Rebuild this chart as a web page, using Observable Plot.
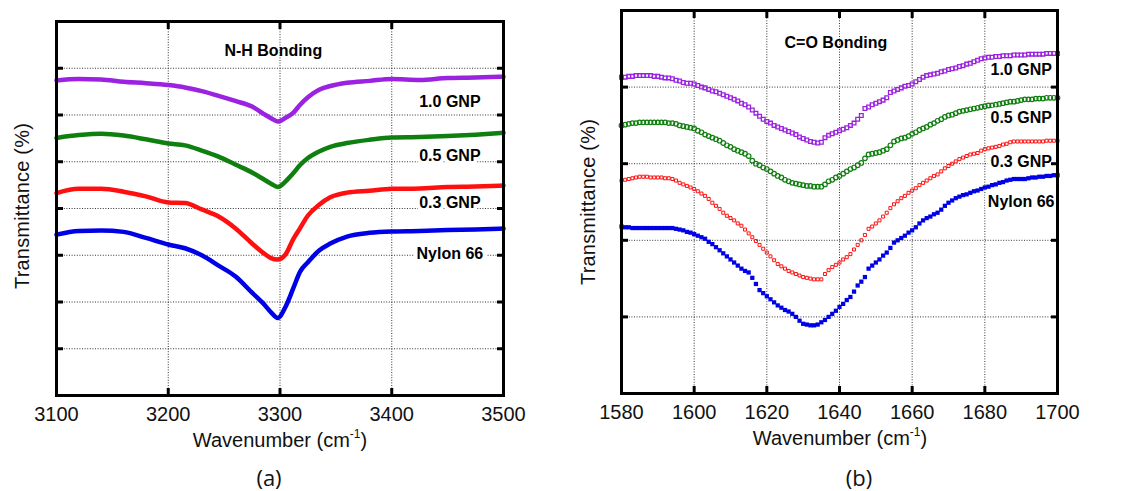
<!DOCTYPE html>
<html><head><meta charset="utf-8">
<script src="https://cdn.jsdelivr.net/npm/d3@7"></script>
<script src="https://cdn.jsdelivr.net/npm/@observablehq/plot@0.6"></script>
<style>
body{margin:0;background:#fff;}
#fig{position:relative;width:1123px;height:491px;overflow:hidden;font-family:"Liberation Sans",Arial,sans-serif;background:#fff;}
.panel{position:absolute;top:0;}
.xt{position:absolute;font-size:20px;line-height:1;transform:translate(-50%,-50%);white-space:nowrap;color:#111;}
.xt sup{font-size:12px;vertical-align:0;position:relative;top:-9px;}
.yt{position:absolute;font-size:20px;line-height:1;white-space:nowrap;transform:translate(-50%,-50%) rotate(-90deg);color:#111;letter-spacing:0.2px;}
.cap{position:absolute;font-family:"Open Sans",sans-serif;font-size:22px;line-height:1;transform:translate(-50%,-50%);color:#111;}
</style></head>
<body>
<div id="fig">
  <div class="panel" id="pa" style="left:0;"></div>
  <div class="panel" id="pb" style="left:560px;"></div>
  <div class="yt" style="left:22px;top:206px;">Transmittance (%)</div>
  <div class="yt" style="left:588px;top:202px;">Transmittance (%)</div>
  <div class="xt" style="left:280px;top:440px;">Wavenumber (cm<sup>-1</sup>)</div>
  <div class="xt" style="left:840px;top:438px;">Wavenumber (cm<sup>-1</sup>)</div>
  <div class="cap" style="left:269px;top:477px;">(a)</div>
  <div class="cap" style="left:859px;top:477px;">(b)</div>
</div>
<script>
// ---------- data ----------
const seriesNames = ["1.0 GNP", "0.5 GNP", "0.3 GNP", "Nylon 66"];
const seriesColors = ["#9b22e0", "#0f7f0f", "#ff1010", "#0000e6"];

// (a) N-H bonding
const wnA = [3100,3120,3140,3160,3180,3200,3215,3230,3245,3260,3275,3285,3292,3298,3305,3312,3318,3325,3335,3345,3360,3380,3400,3425,3450,3475,3500];
const gnp10A = [6.74,6.77,6.76,6.71,6.68,6.64,6.59,6.51,6.41,6.30,6.18,6.03,5.93,5.86,5.94,6.05,6.22,6.38,6.54,6.62,6.69,6.73,6.77,6.75,6.79,6.80,6.82];
const gnp05A = [5.51,5.57,5.60,5.56,5.48,5.39,5.35,5.24,5.11,4.94,4.77,4.63,4.53,4.46,4.58,4.76,4.93,5.08,5.22,5.32,5.40,5.47,5.52,5.53,5.55,5.58,5.62];
const gnp03A = [4.33,4.42,4.42,4.36,4.26,4.13,4.12,3.98,3.83,3.58,3.25,3.05,2.94,2.91,3.02,3.35,3.58,3.85,4.08,4.24,4.34,4.38,4.42,4.43,4.46,4.47,4.49];
const nylonA = [3.44,3.52,3.53,3.50,3.37,3.23,3.15,3.00,2.78,2.55,2.20,1.97,1.78,1.66,1.90,2.30,2.65,2.85,3.10,3.25,3.40,3.48,3.51,3.52,3.54,3.55,3.57];
const xTicksA = [3100, 3200, 3300, 3400, 3500];
const yTicksA = [1, 2, 3, 4, 5, 6, 7];
const labelYA = [6.28, 5.12, 4.11, 3.03];
const labelXA = 3452;
const titleA = "N-H Bonding";

// (b) C=O bonding, one point per cm-1 from 1580 to 1700
const wnStartB = 1580;
const gnp10B = [4.13,4.13,4.14,4.14,4.15,4.15,4.15,4.15,4.15,4.14,4.14,4.13,4.12,4.12,4.11,4.09,4.08,4.06,4.05,4.05,
4.04,4.02,4.00,3.99,3.97,3.95,3.94,3.92,3.90,3.88,3.86,3.84,3.82,3.79,3.77,3.74,3.70,3.66,3.62,3.58,
3.55,3.53,3.50,3.48,3.46,3.44,3.42,3.40,3.38,3.35,3.33,3.31,3.29,3.28,3.27,3.28,3.34,3.37,3.39,3.41,
3.43,3.45,3.47,3.50,3.53,3.58,3.63,3.72,3.74,3.77,3.79,3.81,3.83,3.86,3.93,3.95,3.97,3.99,4.01,4.02,
4.04,4.07,4.10,4.13,4.15,4.16,4.17,4.18,4.20,4.21,4.23,4.24,4.25,4.27,4.28,4.30,4.31,4.33,4.35,4.37,
4.38,4.39,4.39,4.40,4.40,4.41,4.41,4.41,4.42,4.42,4.42,4.42,4.43,4.43,4.43,4.43,4.43,4.44,4.44,4.44,4.44];
const gnp05B = [3.50,3.51,3.52,3.53,3.53,3.54,3.54,3.54,3.54,3.54,3.54,3.54,3.54,3.53,3.53,3.52,3.50,3.49,3.48,3.47,
3.46,3.43,3.41,3.38,3.36,3.34,3.32,3.30,3.27,3.24,3.22,3.19,3.17,3.15,3.13,3.10,3.04,3.00,2.98,2.95,
2.93,2.90,2.87,2.84,2.82,2.79,2.77,2.75,2.74,2.73,2.72,2.71,2.71,2.70,2.70,2.70,2.73,2.77,2.79,2.82,
2.84,2.87,2.90,2.93,2.95,2.98,3.01,3.07,3.12,3.13,3.14,3.15,3.17,3.19,3.24,3.29,3.31,3.33,3.34,3.36,
3.39,3.41,3.44,3.46,3.48,3.51,3.53,3.56,3.58,3.61,3.63,3.64,3.66,3.68,3.69,3.70,3.71,3.72,3.73,3.74,
3.75,3.76,3.76,3.77,3.78,3.79,3.80,3.81,3.81,3.82,3.83,3.84,3.84,3.84,3.85,3.85,3.85,3.86,3.86,3.86,3.86];
const gnp03B = [2.78,2.79,2.80,2.81,2.82,2.83,2.83,2.83,2.82,2.82,2.82,2.82,2.81,2.81,2.80,2.78,2.75,2.73,2.71,2.69,
2.67,2.64,2.61,2.58,2.54,2.49,2.45,2.41,2.36,2.32,2.29,2.26,2.22,2.19,2.14,2.09,2.04,1.99,1.94,1.89,
1.84,1.79,1.74,1.69,1.66,1.63,1.60,1.58,1.56,1.54,1.52,1.51,1.50,1.49,1.49,1.49,1.56,1.61,1.65,1.68,
1.71,1.75,1.78,1.82,1.88,1.94,2.00,2.07,2.15,2.18,2.22,2.26,2.31,2.36,2.42,2.47,2.51,2.55,2.58,2.62,
2.65,2.68,2.72,2.75,2.78,2.81,2.84,2.86,2.90,2.94,2.97,3.00,3.03,3.06,3.08,3.10,3.12,3.13,3.14,3.17,
3.19,3.20,3.21,3.22,3.23,3.25,3.26,3.28,3.29,3.29,3.29,3.29,3.29,3.29,3.29,3.29,3.29,3.30,3.30,3.30,3.30];
const nylonB = [2.18,2.17,2.17,2.16,2.16,2.16,2.16,2.16,2.16,2.16,2.16,2.16,2.16,2.16,2.16,2.15,2.14,2.13,2.11,2.10,
2.08,2.06,2.04,2.02,1.98,1.95,1.91,1.87,1.83,1.79,1.75,1.71,1.67,1.63,1.60,1.58,1.51,1.43,1.35,1.31,
1.27,1.23,1.19,1.15,1.12,1.09,1.07,1.04,1.00,0.95,0.91,0.90,0.89,0.89,0.90,0.93,0.96,1.00,1.04,1.08,
1.13,1.17,1.22,1.26,1.33,1.41,1.46,1.52,1.63,1.67,1.71,1.75,1.80,1.84,1.90,1.97,2.00,2.03,2.06,2.10,
2.13,2.17,2.22,2.26,2.29,2.31,2.34,2.36,2.40,2.45,2.49,2.52,2.55,2.57,2.59,2.60,2.62,2.64,2.65,2.67,
2.69,2.70,2.72,2.73,2.75,2.76,2.78,2.79,2.80,2.80,2.80,2.80,2.81,2.82,2.82,2.83,2.83,2.84,2.84,2.85,2.85];
const xTicksB = [1580, 1600, 1620, 1640, 1660, 1680, 1700];
const yTicksB = [1, 2, 3, 4];
const labelYB = [4.22, 3.60, 3.02, 2.50];
const labelXB = 1690;
const titleB = "C=O Bonding";

// ---------- build tables ----------
const seriesA = [gnp10A, gnp05A, gnp03A, nylonA];
const dataA = seriesA.flatMap((vals, k) => vals.map((t, i) => ({wn: wnA[i], t, s: seriesNames[k]})));
const seriesB = [gnp10B, gnp05B, gnp03B, nylonB];
const dataB = seriesB.map((vals, k) => vals.map((t, i) => ({wn: wnStartB + i, t, s: seriesNames[k]})));
const labelsA = seriesNames.map((n, k) => ({n, x: labelXA, y: labelYA[k]}));
const labelsB = seriesNames.map((n, k) => ({n, x: labelXB, y: labelYB[k]}));

const gridStyle = {stroke: "#000", strokeOpacity: 0.8, strokeWidth: 1, strokeDasharray: "1,1.6"};
const tickStyle = {tickSize: -7, tickFormat: () => "", label: null, strokeWidth: 3, stroke: "#000"};
const baseStyle = {fontFamily: "'Liberation Sans', Arial, sans-serif", fontSize: "20px", background: "transparent", overflow: "visible", color: "#111"};
const color = {domain: seriesNames, range: seriesColors};

function frameMarks(xTicks, yTicks) {
  return [
    Plot.axisY(yTicks, {anchor: "left", ...tickStyle}),
    Plot.axisY(yTicks, {anchor: "right", ...tickStyle}),
    Plot.axisX(xTicks, {anchor: "bottom", ...tickStyle}),
    Plot.axisX(xTicks, {anchor: "top", ...tickStyle}),
    Plot.axisX(xTicks, {anchor: "bottom", tickSize: 0, tickPadding: 11, fontSize: 20, label: null, tickFormat: d => String(d)}),
    Plot.frame({stroke: "#000", strokeWidth: 3})
  ];
}
const labelText = {fontSize: 16, fontWeight: "bold", fill: "#000", stroke: "white", strokeWidth: 7, textAnchor: "middle", fontFamily: "'Liberation Sans', Arial, sans-serif"};

const plotA = Plot.plot({
  width: 560, height: 491,
  marginLeft: 56, marginRight: 57, marginTop: 21, marginBottom: 96,
  style: baseStyle,
  x: {domain: [xTicksA[0], xTicksA[xTicksA.length - 1]]},
  y: {domain: [0, 8]},
  color,
  marks: [
    Plot.gridX(xTicksA, gridStyle),
    Plot.gridY(yTicksA, gridStyle),
    Plot.line(dataA, {x: "wn", y: "t", z: "s", stroke: "s", strokeWidth: 4.5, curve: "monotone-x"}),
    Plot.text(labelsA, {x: "x", y: "y", text: "n", ...labelText}),
    Plot.text([titleA], {x: 3294, y: 7.38, text: d => d, ...labelText, stroke: null}),
    ...frameMarks(xTicksA, yTicksA)
  ]
});

const dotMarks = [
  Plot.dot(dataB[0], {x: "wn", y: "t", symbol: "square", r: 2.1, stroke: seriesColors[0], strokeWidth: 1.3, fill: "none"}),
  Plot.dot(dataB[1], {x: "wn", y: "t", symbol: "circle", r: 2.3, stroke: seriesColors[1], strokeWidth: 1.2, fill: "none"}),
  Plot.dot(dataB[2], {x: "wn", y: "t", symbol: "square", r: 1.7, stroke: seriesColors[2], strokeWidth: 1, fill: "none"}),
  Plot.dot(dataB[3], {x: "wn", y: "t", symbol: "square", r: 2.4, fill: seriesColors[3], stroke: "none"})
];

const plotB = Plot.plot({
  width: 563, height: 491,
  marginLeft: 61, marginRight: 66, marginTop: 10, marginBottom: 98,
  style: baseStyle,
  x: {domain: [xTicksB[0], xTicksB[xTicksB.length - 1]]},
  y: {domain: [0, 5]},
  color,
  marks: [
    Plot.gridX(xTicksB, gridStyle),
    Plot.gridY(yTicksB, gridStyle),
    ...dotMarks,
    Plot.text(labelsB, {x: "x", y: "y", text: "n", ...labelText}),
    Plot.text([titleB], {x: 1639, y: 4.58, text: d => d, ...labelText, stroke: null}),
    ...frameMarks(xTicksB, yTicksB)
  ]
});

document.getElementById("pa").appendChild(plotA);
document.getElementById("pb").appendChild(plotB);
</script>
</body></html>
